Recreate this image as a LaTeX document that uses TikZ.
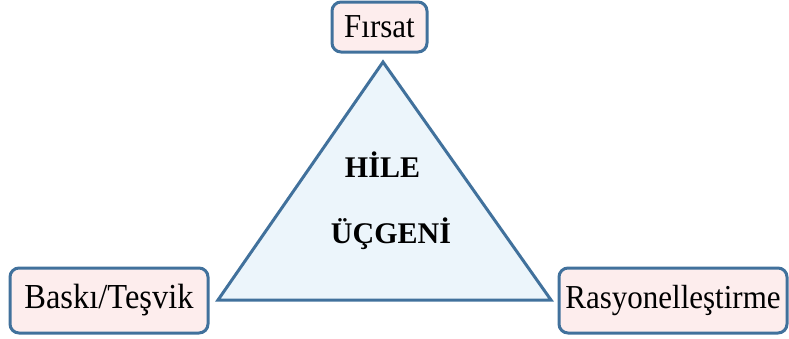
\documentclass[tikz,border=0pt]{standalone}
\usepackage{fontspec}
\setmainfont{Liberation Serif}
\definecolor{edgeblue}{RGB}{65,113,156}
\definecolor{boxpink}{RGB}{253,237,237}
\definecolor{trifill}{RGB}{236,245,251}
\newcommand{\tallish}[1]{\scalebox{1}[1.08]{#1}}
\tikzset{
  corner/.style={draw=edgeblue, line width=3pt, fill=boxpink, rounded corners=9pt, inner sep=0pt, font=\fontsize{31}{36}\selectfont},
  tri/.style={draw=edgeblue, line width=3pt, fill=trifill, line join=miter},
  title/.style={inner sep=0pt, font=\fontsize{30}{34}\selectfont\bfseries}
}
\begin{document}
\begin{tikzpicture}[x=1pt,y=-1pt]
\useasboundingbox (0,0) rectangle (789,338);
\coordinate (apex) at (383,62);
\coordinate (bl) at (218,300);
\coordinate (br) at (551,300);
\draw[tri] (apex) -- (bl) -- (br) -- cycle;
\node[title, anchor=base] (hile) at (382.5,177) {HİLE};
\node[title, anchor=base] (ucgeni) at (391,243) {ÜÇGENİ};
\node[corner, minimum width=95pt, minimum height=50pt] (firsat) at (379.5,27) {\tallish{Fırsat}};
\node[corner, minimum width=198pt, minimum height=65pt] (baski) at (109,300.5) {\tallish{\fontsize{32.5}{36}\selectfont Baskı/Teşvik}};
\node[corner, minimum width=228pt, minimum height=65pt] (rasyo) at (673,300.5) {\tallish{Rasyonelleştirme}};
\end{tikzpicture}
\end{document}
